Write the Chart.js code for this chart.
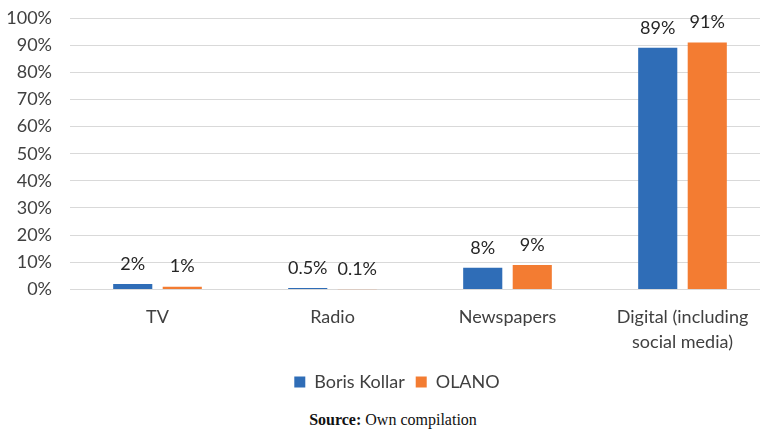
<!DOCTYPE html>
<html>
<head>
<meta charset="utf-8">
<script src="https://cdn.jsdelivr.net/npm/chart.js@4/dist/chart.umd.min.js"></script>
<style>
  html, body { margin: 0; padding: 0; background: #fff; overflow: hidden; }
  #wrap { position: relative; width: 760px; height: 429px; overflow: hidden; }
  #chart { position: absolute; left: 0; top: 0; }
  #source {
    position: absolute; left: 0; top: 411px; width: 786px; text-align: center;
    font-family: "Liberation Serif", "Times New Roman", serif; font-size: 16px; color: #111;
  }
</style>
</head>
<body>
<div id="wrap">
  <canvas id="chart" width="770" height="405"></canvas>
  <div id="source"><b>Source:</b> Own compilation</div>
</div>
<script>
  // Media categories and shares per campaign
  const categories = ["TV", "Radio", "Newspapers", ["Digital (including", "social media)"]];
  const kollarShare = [2, 0.5, 8, 89];
  const olanoShare = [1, 0.1, 9, 91];

  const fontFamily = "Lato, 'Open Sans', sans-serif";

  // Value labels above each bar
  const valueLabels = {
    id: "valueLabels",
    afterDatasetsDraw(chart) {
      const ctx = chart.ctx;
      ctx.save();
      ctx.font = "18px " + fontFamily;
      ctx.fillStyle = "#262626";
      ctx.textAlign = "center";
      ctx.textBaseline = "middle";
      chart.data.datasets.forEach((ds, i) => {
        chart.getDatasetMeta(i).data.forEach((bar, j) => {
          ctx.fillText(ds.data[j] + "%", bar.x, bar.y - 20);
        });
      });
      ctx.restore();
    }
  };

  // Nudge the legend a little to the right of the canvas centre
  const legendShift = {
    id: "legendShift",
    afterLayout(chart) {
      chart.legend.left += 12;
      chart.legend.right += 12;
    }
  };

  new Chart(document.getElementById("chart"), {
    type: "bar",
    data: {
      labels: categories,
      datasets: [
        { label: "Boris Kollar", data: kollarShare, backgroundColor: "#2F6DB7" },
        { label: "OLANO", data: olanoShare, backgroundColor: "#F37C32" }
      ]
    },
    options: {
      responsive: false,
      animation: false,
      categoryPercentage: 0.566,
      barPercentage: 0.79,
      layout: { padding: { top: 18, left: 0, right: 0, bottom: 4 } },
      plugins: {
        tooltip: { enabled: false },
        legend: {
          position: "bottom",
          labels: {
            boxWidth: 11,
            boxHeight: 11,
            padding: 11,
            color: "#404040",
            font: { family: fontFamily, size: 18 }
          }
        }
      },
      scales: {
        x: {
          grid: { display: false },
          border: { color: "#d9d9d9" },
          ticks: {
            color: "#404040",
            padding: 8,
            maxRotation: 0,
            font: { family: fontFamily, size: 18, lineHeight: 1.35 }
          }
        },
        y: {
          min: 0,
          max: 100,
          afterFit(scale) {
            scale.width = 70;
            scale.paddingTop = 0;
            scale.paddingBottom = 0;
          },
          grid: { color: "#d9d9d9", drawTicks: false },
          border: { display: false },
          ticks: {
            stepSize: 10,
            autoSkip: false,
            color: "#404040",
            padding: 18,
            font: { family: fontFamily, size: 18 },
            callback: v => v + "%"
          }
        }
      }
    },
    plugins: [valueLabels, legendShift]
  });
</script>
</body>
</html>
